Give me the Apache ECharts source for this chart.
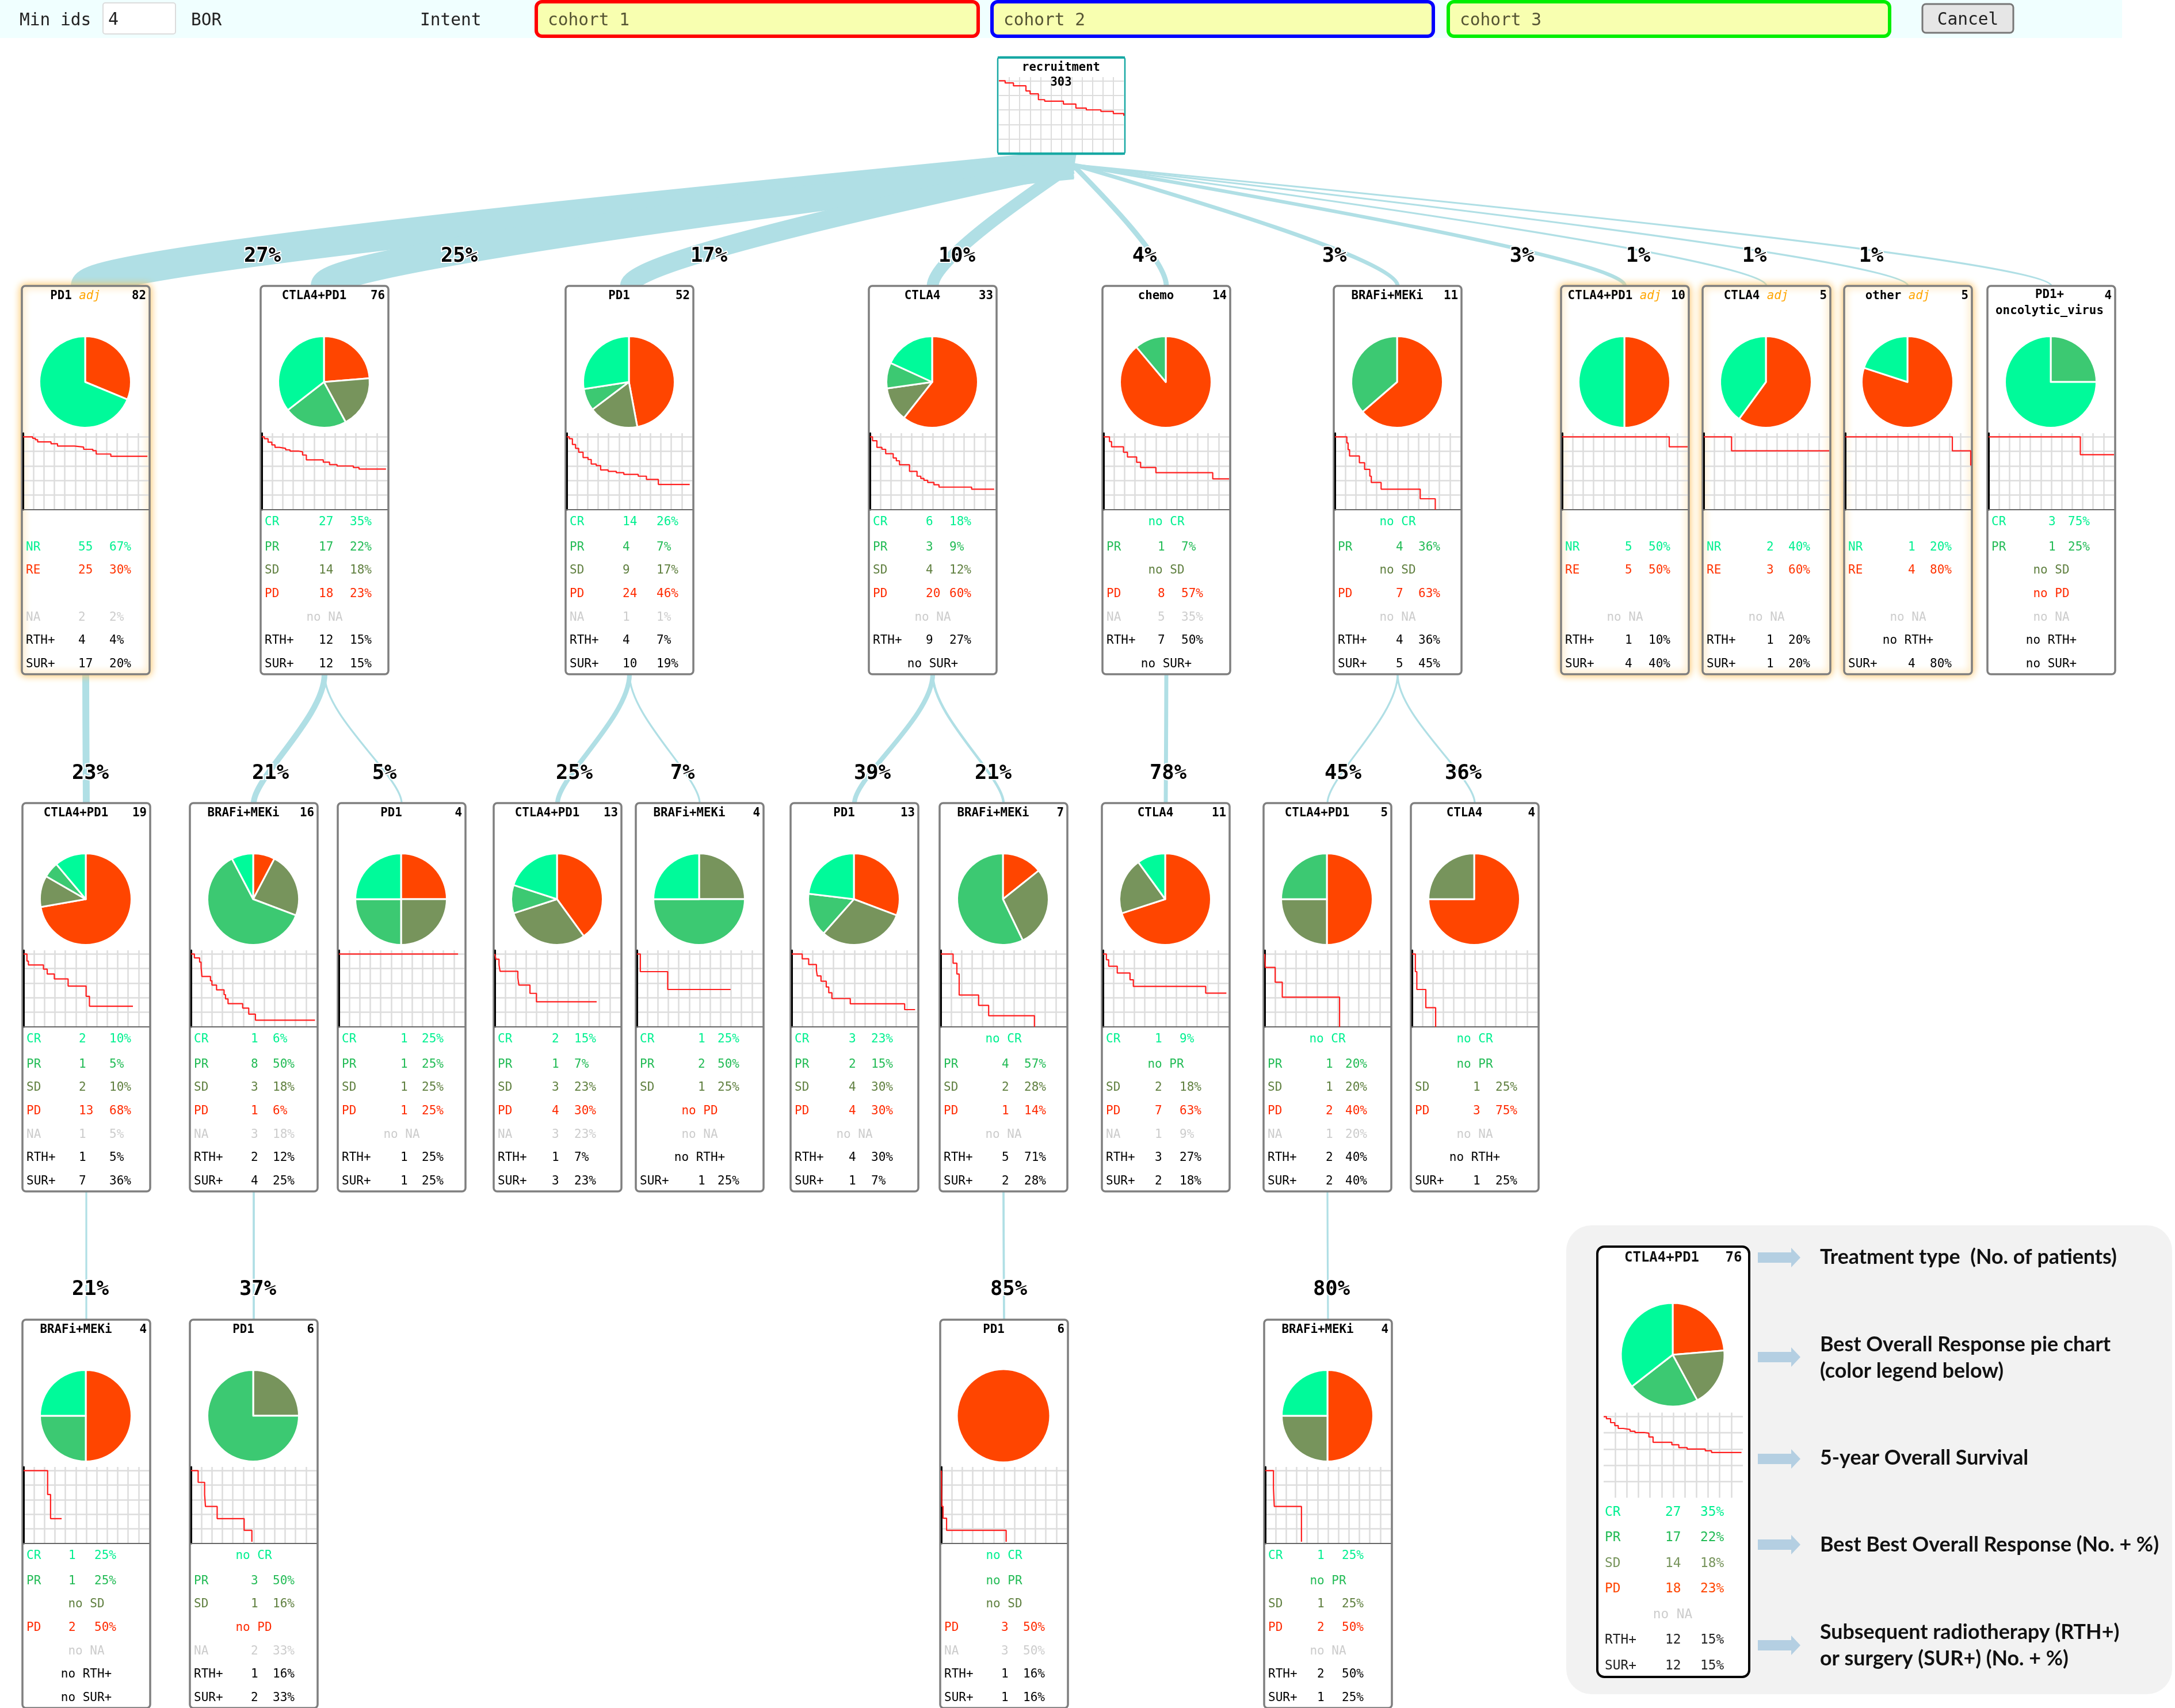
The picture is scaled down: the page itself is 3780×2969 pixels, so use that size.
<!DOCTYPE html>
<html><head><meta charset="utf-8">
<style>html,body{margin:0;padding:0;background:#fff}#c{width:3780px;height:2969px}</style>
<script src="https://cdn.jsdelivr.net/npm/echarts@6/dist/echarts.min.js"></script>
</head><body><div id="c"></div>
<script>
/* ---------- data ---------- */
const totalPatients = 303;
const treatments = ['PD1','CTLA4+PD1','PD1','CTLA4','chemo','BRAFi+MEKi','CTLA4+PD1','CTLA4','other','PD1+\noncolytic_virus',
  'CTLA4+PD1','BRAFi+MEKi','PD1','CTLA4+PD1','BRAFi+MEKi','PD1','BRAFi+MEKi','CTLA4','CTLA4+PD1','CTLA4',
  'BRAFi+MEKi','PD1','PD1','BRAFi+MEKi'];
const adjuvant = [1,0,0,0,0,0,1,1,1,0, 0,0,0,0,0,0,0,0,0,0, 0,0,0,0];
const patients = [82,76,52,33,14,11,10,5,5,4, 19,16,4,13,4,13,7,11,5,4, 4,6,6,4];
const parents  = [-1,-1,-1,-1,-1,-1,-1,-1,-1,-1, 0,1,1,2,2,3,3,4,5,5, 10,11,16,18];
const crCounts = [0,27,14,6,0,0,0,0,0,3, 2,1,1,2,1,3,0,1,0,0, 1,0,0,1];
const prCounts = [0,17,4,3,1,4,0,0,0,1, 1,8,1,1,2,2,4,0,1,0, 1,3,0,0];
const sdCounts = [0,14,9,4,0,0,0,0,0,0, 2,3,1,3,1,4,2,2,1,1, 0,1,0,1];
const pdCounts = [0,18,24,20,8,7,0,0,0,0, 13,1,1,4,0,4,1,7,2,3, 2,0,3,2];
const nrCounts = [55,0,0,0,0,0,5,2,1,0, 0,0,0,0,0,0,0,0,0,0, 0,0,0,0];
const reCounts = [25,0,0,0,0,0,5,3,4,0, 0,0,0,0,0,0,0,0,0,0, 0,0,0,0];
const naCounts = [2,0,1,0,5,0,0,0,0,0, 1,3,0,3,0,0,0,1,1,0, 0,2,3,0];
const rthCounts = [4,12,4,9,7,4,1,1,0,0, 1,2,1,1,0,4,5,3,2,0, 0,1,1,2];
const surCounts = [17,12,10,0,0,5,4,1,4,0, 7,4,1,3,1,1,2,2,2,1, 0,2,1,1];
const recruitmentCurve = [[0,100],[3,97],[7,93],[13,86],[15,82],[19,74],[22,72],[31,68],[37,62.5],[42,60],[49,58],[55,55],[60,52]];
const survivalCurves = [
 [[0,100],[4.6,98],[5.9,96],[7,93],[13.4,90.5],[16.5,87.4],[24.6,85.9],[29,82.9],[33.4,81],[35,76.4],[42,73.3],[59.5,73.3]],
 [[0,100],[1.2,97.4],[3,92.6],[4.8,88.9],[6.3,85.5],[8.4,84.2],[11.4,82.1],[13.5,80.5],[17.4,79.5],[19.5,75],[21.3,68.4],[29.4,65.3],[32.4,61.8],[36,60],[43.8,57.9],[46.5,55.8],[59.4,55.8]],
 [[0,100],[1.2,97.4],[2.7,89.5],[4.2,84.2],[5.7,78.9],[7.8,71.6],[10.2,68.9],[11.7,62.6],[14.1,60.5],[16.2,54.5],[19.8,52.6],[23.7,50.8],[27.3,48.4],[34.2,46],[38.1,41.6],[43.8,34.7],[58.8,34.7]],
 [[0,100],[1.2,94.7],[3.3,85.5],[5.7,82.9],[7.5,76.8],[11.1,71],[12.6,67.1],[14.1,61.6],[18.9,52.6],[22.5,46],[24.3,42.9],[25.8,40.3],[27.6,37.4],[30.6,34.2],[33,31],[48.6,28.2],[59.4,28.2]],
 [[0,100],[2.8,93.4],[3.8,86.3],[9.5,78.9],[11.4,72.4],[15.8,65],[17.7,57.9],[25,50.8],[52.2,42.4],[60,42.4]],
 [[0,100],[5.7,91.6],[6.3,82.4],[7,73.7],[11.7,64.5],[14.2,55.3],[16.7,46],[17.4,37.4],[22.1,28.2],[40.8,15],[48,0]],
 [[0,100],[51.2,86.3],[60,86.3]],
 [[0,100],[13.3,80.8],[60,80.8]],
 [[0,100],[51.2,80.8],[60,60.5]],
 [[0,100],[43.9,75.5],[60,75.5]],
 [[0,100],[1.6,90.3],[2.3,85],[9.5,79.2],[11.3,72.6],[14.7,65.8],[21.3,56],[29.9,42],[31.5,28.4],[52.3,28.4]],
 [[0,100],[1.6,94.7],[4.1,88.9],[4.8,82.4],[5.2,69.2],[9.3,63.2],[10,57.4],[12.2,50.8],[15.8,44.2],[16.5,38.4],[17.7,31.8],[24.7,25.8],[27.6,17.4],[30.8,9.2],[59.3,9.2]],
 [[0,100],[57,100]],
 [[0,100],[0.5,92.9],[2,85],[2.5,76.3],[11,67.4],[11.5,57.4],[16.8,46],[19.9,34.5],[48.7,34.5]],
 [[0,100],[1.6,75.8],[14.7,51.3],[44.8,51.3]],
 [[0,100],[5,93.4],[8.1,85.5],[11.8,77.6],[12.2,70],[14,62.6],[16.5,54.7],[17.7,46.8],[19.2,38.9],[28,31.6],[54,23.7],[59,23.7]],
 [[0,100],[5.9,87.4],[7.7,72.6],[8.8,43.7],[18.1,29.5],[22.9,15.3],[44.8,0]],
 [[0,100],[1.6,92.1],[2.7,83.2],[6.8,73.9],[12.9,64.7],[14.5,55.5],[49.1,46.3],[59,46.3]],
 [[0,100],[0.3,81.6],[5,61.3],[8.4,40.8],[35.8,0]],
 [[0,100],[1.6,75.8],[2.3,51.3],[6.6,26.3],[11.3,0]],
 [[0,100],[11.5,67.2],[12.9,34.1],[18.2,34.1]],
 [[0,100],[3.4,83.9],[6.5,67.2],[6.9,50.8],[12.5,34.1],[25.4,18],[29.1,2.4]],
 [[0,100],[0.2,51],[0.8,34.7],[2.5,18],[31,2.4]],
 [[0,100],[3.9,75.8],[4.3,50.8],[17.3,2.4]]
];
const topLabels = ['Min ids','BOR','Intent'];
const cohortLabels = ['cohort 1','cohort 2','cohort 3'];
const legendNotes = ['Treatment type  (No. of patients)','Best Overall Response pie chart\n(color legend below)','5-year Overall Survival','Best Best Overall Response (No. + %)','Subsequent radiotherapy (RTH+)\nor surgery (SUR+) (No. + %)'];

/* ---------- layout ---------- */
const CW = 222, CH = 675;
const rowTop = [497,1396,2294];
const cardLeft = [38,453,983,1510,1916,2318,2713,2959,3205,3454, 39,330,587,858,1105,1374,1633,1915,2196,2452, 39,330,1634,2197];
const cardRow = i => i < 10 ? 0 : i < 20 ? 1 : 2;
const countOff = [98,101,99,99,96,108,111,111,111,106, 98,106,109,101,108,101,108,92,108,108, 80,106,106,92];
const pctOff = [152,155,158,140,137,147,152,149,149,140, 151,144,146,140,142,140,147,135,142,147, 125,144,144,135];
const rowY = [411,455,495,536,577,617,658];
const labelX = [456,798,1232,1663,1989,2319,2645,2847,3049,3252, 157,470,668,998,1186,1516,1726,2030,2334,2543, 157,448,1753,2314];
const labelY = [446,1345,2242];
const recruit = {x:1734,y:99,w:221,h:169};
const legendCard = {x:2776,y:2167,w:264,h:748};
const CURVE_RISE = 45;

/* ---------- colours ---------- */
const COL = {pieCR:'#00fa9a',piePR:'#3cc972',pieSD:'#77945c',piePD:'#ff4500',
  txtCR:'#00f090',txtPR:'#22bb55',txtSD:'#5f7f3f',txtPD:'#ff2a00',txtRE:'#ff3300',txtNA:'#cccccc',link:'#b0dfe5',grid:'#dddddd',curve:'#ff1f1f'};
const MONO = '"DejaVu Sans Mono"';
const g = [], series = [], grids = [], xAxes = [], yAxes = [];

function txt(x,y,text,size,fill,opt){
  opt = opt||{};
  g.push({type:'text',x,y,z:opt.z||5,silent:true,style:Object.assign({text,fill,align:opt.align||'left',verticalAlign:'middle',
    font:(opt.weight||'normal')+' '+size+'px '+(opt.family||MONO)},opt.style||{})});
}
function rect(x,y,w,h,fill,stroke,lw,r,z,extra){
  g.push({type:'rect',z:z,silent:true,shape:{x,y,width:w,height:h,r},style:Object.assign({fill,stroke,lineWidth:lw},extra||{})});
}
function km(x,top,w,h,curve,opt){
  opt = opt||{};
  const i = grids.length;
  grids.push({left:x,top,width:w,height:h,containLabel:false,show:false});
  xAxes.push({gridIndex:i,type:'value',min:0,max:60,interval:5,
    axisLine:{show:!opt.noAxes,onZero:false,lineStyle:{color:'#666',width:2}},axisTick:{show:false},axisLabel:{show:false},
    splitLine:{show:true,showMinLine:false,showMaxLine:false,lineStyle:{color:COL.grid,width:opt.gw||2.5}}});
  yAxes.push({gridIndex:i,type:'value',min:0,max:105,interval:20,
    axisLine:{show:!opt.noAxes,onZero:false,lineStyle:{color:'#000',width:3}},axisTick:{show:false},axisLabel:{show:false},
    splitLine:{show:true,showMinLine:false,showMaxLine:false,lineStyle:{color:COL.grid,width:opt.gw||2.5}}});
  series.push({type:'line',xAxisIndex:i,yAxisIndex:i,data:curve,step:'end',showSymbol:false,silent:true,clip:false,z:3,
    lineStyle:{color:COL.curve,width:2.2},animation:false});
}
function pie(cx,cy,r,i){
  const d = adjuvant[i]
    ? [{v:reCounts[i],c:COL.piePD},{v:nrCounts[i],c:COL.pieCR}]
    : [{v:pdCounts[i],c:COL.piePD},{v:sdCounts[i],c:COL.pieSD},{v:prCounts[i],c:COL.piePR},{v:crCounts[i],c:COL.pieCR}];
  series.push({type:'pie',center:[cx,cy],radius:[0,r],startAngle:90,clockwise:true,silent:true,animation:false,z:2,
    label:{show:false},labelLine:{show:false},
    data:d.filter(e=>e.v>0).map(e=>({value:e.v,itemStyle:{color:e.c,borderColor:'#fff',borderWidth:d.filter(q=>q.v>0).length>1?3:0}}))});
}
function statRow(cx,lx,cnt,pct,y,label,v,n,color,size){
  if (v>0){
    txt(lx,y,label,size,color);
    txt(cnt,y,String(v),size,color);
    txt(pct,y,Math.floor(v/n*100)+'%',size,color);
  } else txt(cx,y,'no '+label,size,color,{align:'center'});
}

/* top bar */
rect(0,0,3688,66,'#f0ffff',null,0,0,-3);
txt(34,36,topLabels[0],29.5,'#222');
rect(179,5,126,54,'#fff','#dcdcdc',2,4,0);
txt(188,35,'4',30,'#222');
txt(332,36,topLabels[1],29.5,'#222');
txt(730,36,topLabels[2],29.5,'#222');
[[932,768,'#ff0000'],[1724,767,'#0000ff'],[2517,767,'#00ee00']].forEach((b,k)=>{
  rect(b[0],3,b[1],60,'#f8ffb0',b[2],6,10,0);
  txt(b[0]+20,36,cohortLabels[k],29.5,'#555533');
});
rect(3341,7,158,50,'#e6e6e6','#777',3,6,0);
txt(3420,35,'Cancel',29.5,'#222',{align:'center'});

/* recruitment */
rect(recruit.x,recruit.y,recruit.w,recruit.h,'#fff','#17a8a3',2.5,4,-1);
rect(recruit.x,recruit.y-1,recruit.w,4,'#17a8a3',null,0,0,1);
rect(recruit.x,recruit.y+recruit.h-3,recruit.w,4,'#17a8a3',null,0,0,1);
txt(recruit.x+110,118,'recruitment',20.5,'#000',{align:'center',weight:'bold'});
txt(recruit.x+110,144,String(totalPatients),20.5,'#000',{align:'center',weight:'bold'});
km(recruit.x+2,recruit.y+35,recruit.w-4,133,recruitmentCurve,{noAxes:true,gw:2});
const hub = {x:1864,y:286};
g.push({type:'polygon',z:-2,silent:true,shape:{points:[[1780,266],[1871,266],[1866,296],[1790,296]]},style:{fill:COL.link}});

/* cards */
treatments.forEach((name,i)=>{
  const x = cardLeft[i], top = rowTop[cardRow(i)], cx = x+CW/2, n = patients[i];
  /* link */
  const p = parents[i];
  const lw = Math.max(3.2,n*0.63);
  const sx = p<0 ? hub.x : cardLeft[p]+CW/2;
  const sy = p<0 ? hub.y : rowTop[cardRow(p)]+CH;
  const c2y = top-CURVE_RISE;
  const c1x = p<0 ? sx+(cx-sx)/3 : sx;
  const c1y = p<0 ? sy+(c2y-sy)/3 : sy+(top-sy)*0.33;
  g.push({type:'bezierCurve',z:-2,silent:true,shape:{x1:sx,y1:sy,cpx1:c1x,cpy1:c1y,cpx2:cx,cpy2:c2y,x2:cx,y2:top},
    style:{stroke:COL.link,fill:null,lineWidth:lw}});
  /* link label */
  const base = p<0 ? totalPatients : patients[p];
  txt(labelX[i],labelY[cardRow(i)],Math.floor(n/base*100)+'%',35.5,'#000',{align:'center',weight:'bold',z:6,style:{stroke:'#fff',lineWidth:4}});
  /* box */
  const ex = adjuvant[i] ? {shadowBlur:14,shadowColor:'#ffc05a'} : {};
  rect(x,top,CW,CH,'#fff','#7f7f7f',3.5,6,-1,ex);
  /* title */
  const lines = name.split('\n');
  if (lines.length>1){
    txt(cx-3,top+16,lines[0],20.8,'#000',{align:'center',weight:'bold'});
    txt(cx-3,top+44,lines[1],20.8,'#000',{align:'center',weight:'bold'});
  } else if (adjuvant[i]){
    g.push({type:'text',x:cx-18,y:top+18,z:5,silent:true,style:{text:'{a|'+name+' }{b|adj}',align:'center',verticalAlign:'middle',
      rich:{a:{fontFamily:'DejaVu Sans Mono',fontSize:20.8,fontWeight:'bold',fill:'#000'},b:{fontFamily:'DejaVu Sans Mono',fontSize:20.8,fontStyle:'italic',fill:'#ffa500'}}}});
  } else txt(cx-18,top+18,name,20.8,'#000',{align:'center',weight:'bold'});
  txt(x+CW-6,top+18,String(n),20.8,'#000',{align:'right',weight:'bold'});
  /* pie and survival */
  pie(cx-1,top+167,79.5,i);
  km(x+2,top+256,CW-4,133,survivalCurves[i]);
  /* statistics */
  const lx = x+7, c = x+countOff[i], q = x+pctOff[i], S = 21;
  if (adjuvant[i]){
    statRow(cx,lx,c,q,top+rowY[1],'NR',nrCounts[i],n,COL.txtCR,S);
    statRow(cx,lx,c,q,top+rowY[2],'RE',reCounts[i],n,COL.txtRE,S);
  } else {
    statRow(cx,lx,c,q,top+rowY[0],'CR',crCounts[i],n,COL.txtCR,S);
    statRow(cx,lx,c,q,top+rowY[1],'PR',prCounts[i],n,COL.txtPR,S);
    statRow(cx,lx,c,q,top+rowY[2],'SD',sdCounts[i],n,COL.txtSD,S);
    statRow(cx,lx,c,q,top+rowY[3],'PD',pdCounts[i],n,COL.txtPD,S);
  }
  statRow(cx,lx,c,q,top+rowY[4],'NA',naCounts[i],n,COL.txtNA,S);
  statRow(cx,lx,c,q,top+rowY[5],'RTH+',rthCounts[i],n,'#000',S);
  statRow(cx,lx,c,q,top+rowY[6],'SUR+',surCounts[i],n,'#000',S);
});

/* legend panel */
rect(2722,2130,1053,815,'#f2f2f2',null,0,44,-3);
const L = legendCard, li = 1;
rect(L.x,L.y,L.w,L.h,'#fff','#000',4,12,-1);
txt(L.x+47,2187,treatments[li],24,'#111',{weight:'bold'});
txt(3013,2187,String(patients[li]),24,'#111',{align:'center',weight:'bold'});
pie(2907,2355,90,li);
km(2787,2455.5,242,148,survivalCurves[li],{noAxes:true});
const LY = [2629,2673,2718,2762,2807,2851,2896];
[['CR',crCounts,COL.txtCR],['PR',prCounts,COL.txtPR],['SD',sdCounts,'#77945c'],['PD',pdCounts,'#ff4500'],['NA',naCounts,COL.txtNA],['RTH+',rthCounts,'#222'],['SUR+',surCounts,'#222']]
 .forEach((r,k)=>statRow(2907,2789,2894,2955,LY[k],r[0],r[1][li],patients[li],r[2],22.8));
const arrowY = [2186,2359,2536,2685,2860];
arrowY.forEach(y=>{
  g.push({type:'polygon',z:1,silent:true,shape:{points:[[3055,y-9],[3113,y-9],[3113,y-17],[3129,y],[3113,y+17],[3113,y+9],[3055,y+9]]},style:{fill:'#b4cfe2'}});
});
const noteY = [2185,2360,2534,2685,2860];
legendNotes.forEach((t,k)=>{
  g.push({type:'text',x:3163,y:noteY[k],z:5,silent:true,style:{text:t,fill:'#111',align:'left',verticalAlign:'middle',lineHeight:46,font:'bold 35.8px Lato'}});
});

const chart = echarts.init(document.getElementById('c'),null,{renderer:'canvas',width:3780,height:2969});
chart.setOption({animation:false,backgroundColor:'#fff',grid:grids,xAxis:xAxes,yAxis:yAxes,series,graphic:{elements:g},tooltip:{show:false}});
</script></body></html>
